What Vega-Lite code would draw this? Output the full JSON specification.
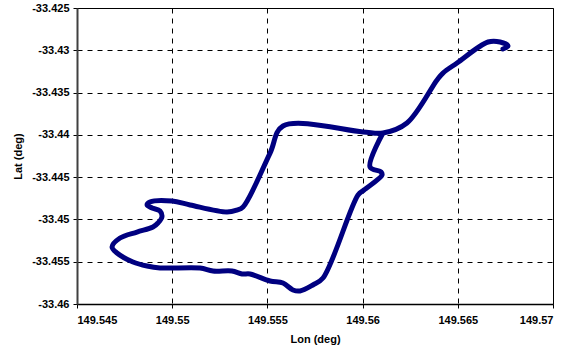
{
  "$schema": "https://vega.github.io/schema/vega-lite/v6.json",
  "width": 476,
  "height": 296,
  "autosize": {"type": "none"},
  "padding": {"left": 77, "top": 8, "right": 21, "bottom": 48},
  "background": "white",
  "config": {
    "view": {"stroke": "black", "strokeWidth": 1},
    "axis": {
      "labelFont": "Liberation Sans",
      "labelFontWeight": "bold",
      "labelFontSize": 11,
      "labelColor": "black",
      "titleFont": "Liberation Sans",
      "titleFontWeight": "bold",
      "titleFontSize": 11,
      "titleColor": "black",
      "grid": true,
      "gridColor": "black",
      "gridDash": [5, 5],
      "gridWidth": 1,
      "gridOpacity": 1,
      "tickColor": "black",
      "tickSize": 4,
      "domainColor": "black"
    }
  },
  "data": {
    "values": [
      {"i": 1, "lon": 149.56737, "lat": -33.42985},
      {"i": 2, "lon": 149.56764, "lat": -33.42949},
      {"i": 3, "lon": 149.56722, "lat": -33.42902},
      {"i": 4, "lon": 149.56659, "lat": -33.42902},
      {"i": 5, "lon": 149.56496, "lat": -33.4315},
      {"i": 6, "lon": 149.56422, "lat": -33.43269},
      {"i": 7, "lon": 149.56391, "lat": -33.43351},
      {"i": 8, "lon": 149.56233, "lat": -33.4386},
      {"i": 9, "lon": 149.56107, "lat": -33.43978},
      {"i": 10, "lon": 149.56002, "lat": -33.43966},
      {"i": 11, "lon": 149.55582, "lat": -33.43895},
      {"i": 12, "lon": 149.55514, "lat": -33.44215},
      {"i": 13, "lon": 149.55372, "lat": -33.44853},
      {"i": 14, "lon": 149.5534, "lat": -33.44889},
      {"i": 15, "lon": 149.55288, "lat": -33.44912},
      {"i": 16, "lon": 149.55094, "lat": -33.44829},
      {"i": 17, "lon": 149.54999, "lat": -33.44782},
      {"i": 18, "lon": 149.54883, "lat": -33.44794},
      {"i": 19, "lon": 149.54868, "lat": -33.44829},
      {"i": 20, "lon": 149.54894, "lat": -33.44865},
      {"i": 21, "lon": 149.54936, "lat": -33.449},
      {"i": 22, "lon": 149.54946, "lat": -33.44971},
      {"i": 23, "lon": 149.54925, "lat": -33.45042},
      {"i": 24, "lon": 149.54899, "lat": -33.4509},
      {"i": 25, "lon": 149.54815, "lat": -33.45149},
      {"i": 26, "lon": 149.54726, "lat": -33.4522},
      {"i": 27, "lon": 149.54684, "lat": -33.45326},
      {"i": 28, "lon": 149.5471, "lat": -33.45397},
      {"i": 29, "lon": 149.54794, "lat": -33.45503},
      {"i": 30, "lon": 149.54868, "lat": -33.45551},
      {"i": 31, "lon": 149.54936, "lat": -33.45574},
      {"i": 32, "lon": 149.55146, "lat": -33.45574},
      {"i": 33, "lon": 149.55214, "lat": -33.4561},
      {"i": 34, "lon": 149.55314, "lat": -33.4561},
      {"i": 35, "lon": 149.55367, "lat": -33.45645},
      {"i": 36, "lon": 149.55409, "lat": -33.45645},
      {"i": 37, "lon": 149.55514, "lat": -33.45728},
      {"i": 38, "lon": 149.55582, "lat": -33.45752},
      {"i": 39, "lon": 149.55634, "lat": -33.45834},
      {"i": 40, "lon": 149.55671, "lat": -33.45846},
      {"i": 41, "lon": 149.55739, "lat": -33.45775},
      {"i": 42, "lon": 149.55792, "lat": -33.45693},
      {"i": 43, "lon": 149.55976, "lat": -33.44711},
      {"i": 44, "lon": 149.56007, "lat": -33.44652},
      {"i": 45, "lon": 149.56102, "lat": -33.44475},
      {"i": 46, "lon": 149.56097, "lat": -33.44439},
      {"i": 47, "lon": 149.56039, "lat": -33.4438},
      {"i": 48, "lon": 149.56107, "lat": -33.43978}
    ]
  },
  "mark": {
    "type": "line",
    "color": "#000080",
    "strokeWidth": 5,
    "strokeCap": "round",
    "strokeJoin": "round",
    "interpolate": "catmull-rom",
    "clip": true
  },
  "encoding": {
    "x": {
      "field": "lon",
      "type": "quantitative",
      "scale": {"domain": [149.545, 149.57], "nice": false, "zero": false},
      "axis": {
        "title": "Lon (deg)",
        "values": [149.545, 149.55, 149.555, 149.56, 149.565, 149.57],
        "labelExpr": "replace(format(datum.value, '.3~f'), '\u2212', '-')",
        "labelPadding": 6,
        "titlePadding": 8,
        "domainWidth": 1.5
      }
    },
    "y": {
      "field": "lat",
      "type": "quantitative",
      "scale": {"domain": [-33.46, -33.425], "nice": false, "zero": false},
      "axis": {
        "title": "Lat (deg)",
        "values": [-33.46, -33.455, -33.45, -33.445, -33.44, -33.435, -33.43, -33.425],
        "labelExpr": "replace(format(datum.value, '.3~f'), '\u2212', '-')",
        "labelPadding": 4,
        "titlePadding": 8,
        "domainWidth": 2,
        "domainColor": "#404040"
      }
    },
    "order": {"field": "i", "type": "quantitative"}
  }
}
